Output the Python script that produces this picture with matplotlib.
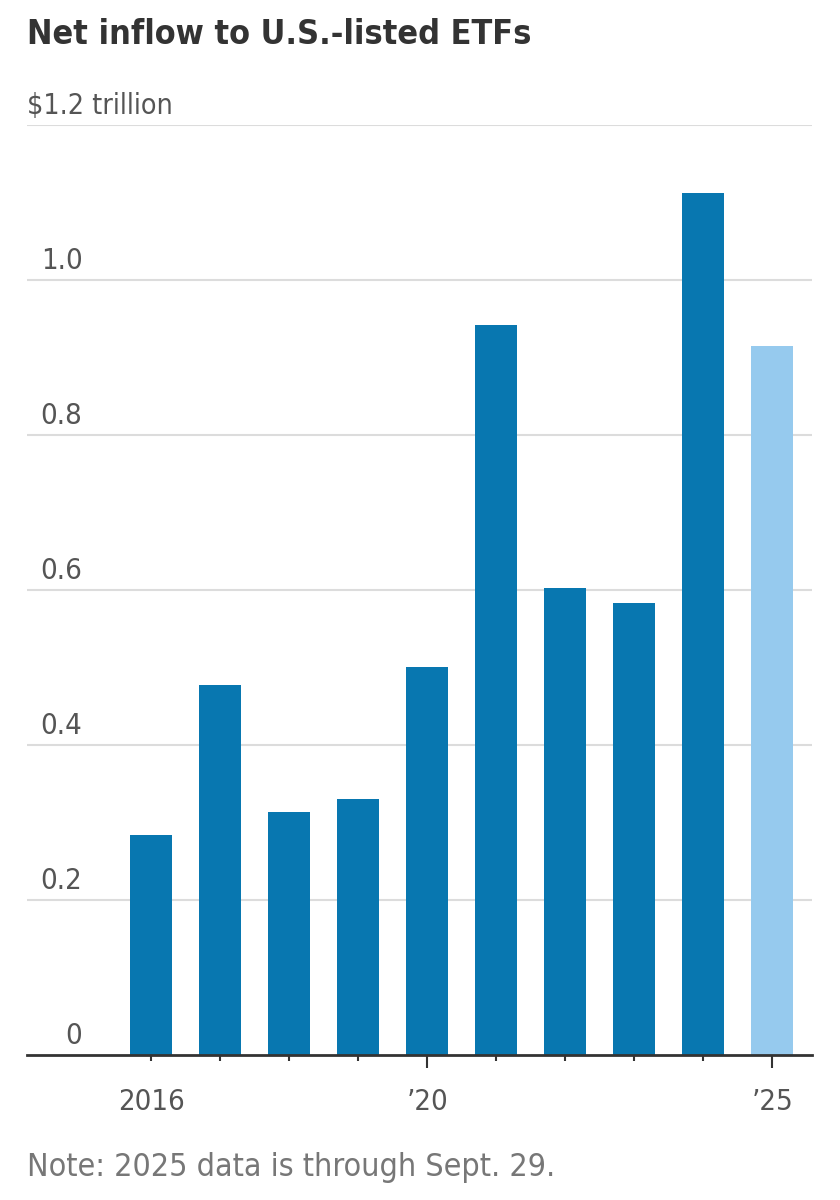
import matplotlib
matplotlib.use("Agg")
import matplotlib.pyplot as plt
import matplotlib.transforms as mtransforms

years = [2016, 2017, 2018, 2019, 2020, 2021, 2022, 2023, 2024, 2025]
inflow = [0.283, 0.477, 0.313, 0.330, 0.501, 0.942, 0.602, 0.583, 1.112, 0.915]
partial = [False] * 9 + [True]
ytick_vals = [0, 0.2, 0.4, 0.6, 0.8, 1.0, 1.2]
ytick_labels = ["0", "0.2", "0.4", "0.6", "0.8", "1.0", ""]
xtick_labels = {2016: "2016", 2020: "\u201920", 2025: "\u201925"}

dark = "#0877b0"
light = "#96caee"

plt.rcParams["font.family"] = ["DejaVu Sans"]
plt.rcParams["font.stretch"] = "condensed"

fig = plt.figure(figsize=(8.4, 12), dpi=100)
ax = fig.add_axes([0.032, 0.121, 0.935, 0.775])

colors = [light if p else dark for p in partial]
ax.bar(years, inflow, width=0.61, color=colors, zorder=3)

ax.set_ylim(0, 1.2)
ax.set_xlim(2016 - 1.8, 2025 + 0.58)

# gridlines
for v in ytick_vals[1:]:
    ax.axhline(v, color="#dcdcdc", lw=1.5, zorder=1)

ax.set_yticks(ytick_vals)
ax.set_yticklabels(ytick_labels)
ax.tick_params(axis="y", length=0, pad=-40, labelsize=21, labelcolor="#555555")
lift = mtransforms.ScaledTranslation(0, 5 / 100, fig.dpi_scale_trans)
for lab in ax.get_yticklabels():
    lab.set_verticalalignment("bottom")
    lab.set_horizontalalignment("right")
    lab.set_transform(lab.get_transform() + lift)

trans = mtransforms.blended_transform_factory(ax.transAxes, ax.transData)
ax.text(0, 1.2, "$1.2 trillion", fontsize=20.5, color="#555555", ha="left", va="bottom",
        transform=trans + lift)

ax.set_xticks(years)
ax.set_xticklabels([xtick_labels.get(y, "") for y in years])
ax.tick_params(axis="x", length=4, width=1.5, pad=20, labelsize=21,
               labelcolor="#555555", color="#333333")
for y, t in zip(years, ax.xaxis.get_major_ticks()):
    if y in (2020, 2025):
        t.tick1line.set_markersize(9)

for s in ["top", "left", "right"]:
    ax.spines[s].set_visible(False)
ax.spines["bottom"].set_color("#333333")
ax.spines["bottom"].set_linewidth(2)
ax.spines["bottom"].set_zorder(4)

fig.text(0.032, 0.971, "Net inflow to U.S.-listed ETFs", fontsize=24.5,
         fontweight="bold", color="#333333", ha="left", va="center")
fig.text(0.032, 0.027, "Note: 2025 data is through Sept. 29.", fontsize=23,
         color="#777777", ha="left", va="center")

fig.savefig("out.png", dpi=100)
